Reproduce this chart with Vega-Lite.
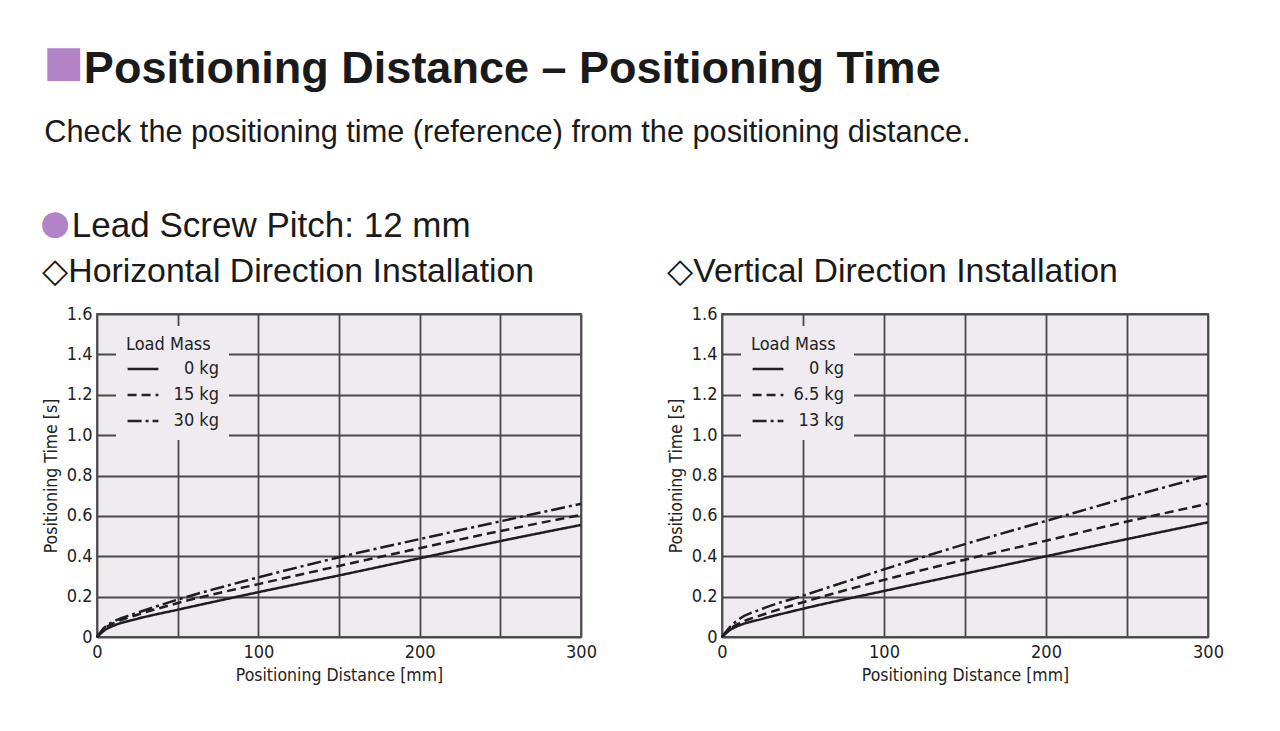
{
  "$schema": "https://vega.github.io/schema/vega-lite/v6.json",
  "background": "white",
  "padding": {"left": 40, "top": 30, "right": 10, "bottom": 10},
  "config": {
    "font": "Liberation Sans",
    "view": {"fill": "#efebf1", "stroke": "#555555", "strokeWidth": 1.8},
    "axis": {
      "labelFont": "DejaVu Sans Condensed, Liberation Sans",
      "labelFontSize": 18,
      "labelColor": "#222222",
      "titleFont": "DejaVu Sans Condensed, Liberation Sans",
      "titleFontSize": 17.5,
      "titleFontWeight": "normal",
      "titleColor": "#222222",
      "ticks": false,
      "domain": false,
      "gridColor": "#4a4a4a",
      "gridWidth": 1.8,
      "gridOpacity": 1,
      "labelPadding": 5
    },
    "legend": {
      "orient": "none",
      "legendX": 19,
      "legendY": 12,
      "fillColor": "#efebf1",
      "padding": 10,
      "titleFont": "DejaVu Sans Condensed, Liberation Sans",
      "titleFontSize": 18,
      "titleFontWeight": "normal",
      "titleColor": "#222222",
      "titlePadding": -2,
      "labelFont": "DejaVu Sans Condensed, Liberation Sans",
      "labelFontSize": 18,
      "labelColor": "#222222",
      "symbolStrokeColor": "#222222",
      "symbolStrokeWidth": 2.5,
      "symbolSize": 950,
      "rowPadding": -10,
      "labelAlign": "right",
      "labelOffset": 59
    }
  },
  "datasets": {
    "horizontal": [
      {"d": 0, "t": 0, "load": "0 kg"},
      {"d": 5, "t": 0.035, "load": "0 kg"},
      {"d": 10, "t": 0.055, "load": "0 kg"},
      {"d": 25, "t": 0.09, "load": "0 kg"},
      {"d": 50, "t": 0.135, "load": "0 kg"},
      {"d": 100, "t": 0.222, "load": "0 kg"},
      {"d": 150, "t": 0.305, "load": "0 kg"},
      {"d": 200, "t": 0.39, "load": "0 kg"},
      {"d": 250, "t": 0.475, "load": "0 kg"},
      {"d": 300, "t": 0.555, "load": "0 kg"},
      {"d": 0, "t": 0, "load": "15 kg"},
      {"d": 5, "t": 0.045, "load": "15 kg"},
      {"d": 10, "t": 0.068, "load": "15 kg"},
      {"d": 25, "t": 0.11, "load": "15 kg"},
      {"d": 50, "t": 0.168, "load": "15 kg"},
      {"d": 100, "t": 0.262, "load": "15 kg"},
      {"d": 150, "t": 0.352, "load": "15 kg"},
      {"d": 200, "t": 0.44, "load": "15 kg"},
      {"d": 250, "t": 0.525, "load": "15 kg"},
      {"d": 300, "t": 0.605, "load": "15 kg"},
      {"d": 0, "t": 0, "load": "30 kg"},
      {"d": 5, "t": 0.05, "load": "30 kg"},
      {"d": 10, "t": 0.075, "load": "30 kg"},
      {"d": 25, "t": 0.12, "load": "30 kg"},
      {"d": 50, "t": 0.185, "load": "30 kg"},
      {"d": 100, "t": 0.295, "load": "30 kg"},
      {"d": 150, "t": 0.395, "load": "30 kg"},
      {"d": 200, "t": 0.485, "load": "30 kg"},
      {"d": 250, "t": 0.573, "load": "30 kg"},
      {"d": 300, "t": 0.66, "load": "30 kg"}
    ],
    "vertical": [
      {"d": 0, "t": 0, "load": "0 kg"},
      {"d": 5, "t": 0.035, "load": "0 kg"},
      {"d": 10, "t": 0.055, "load": "0 kg"},
      {"d": 25, "t": 0.09, "load": "0 kg"},
      {"d": 50, "t": 0.14, "load": "0 kg"},
      {"d": 100, "t": 0.228, "load": "0 kg"},
      {"d": 150, "t": 0.314, "load": "0 kg"},
      {"d": 200, "t": 0.4, "load": "0 kg"},
      {"d": 250, "t": 0.485, "load": "0 kg"},
      {"d": 300, "t": 0.568, "load": "0 kg"},
      {"d": 0, "t": 0, "load": "6.5 kg"},
      {"d": 5, "t": 0.04, "load": "6.5 kg"},
      {"d": 10, "t": 0.065, "load": "6.5 kg"},
      {"d": 25, "t": 0.11, "load": "6.5 kg"},
      {"d": 50, "t": 0.172, "load": "6.5 kg"},
      {"d": 100, "t": 0.283, "load": "6.5 kg"},
      {"d": 150, "t": 0.383, "load": "6.5 kg"},
      {"d": 200, "t": 0.477, "load": "6.5 kg"},
      {"d": 250, "t": 0.572, "load": "6.5 kg"},
      {"d": 300, "t": 0.66, "load": "6.5 kg"},
      {"d": 0, "t": 0, "load": "13 kg"},
      {"d": 5, "t": 0.05, "load": "13 kg"},
      {"d": 10, "t": 0.085, "load": "13 kg"},
      {"d": 25, "t": 0.14, "load": "13 kg"},
      {"d": 50, "t": 0.205, "load": "13 kg"},
      {"d": 100, "t": 0.335, "load": "13 kg"},
      {"d": 150, "t": 0.46, "load": "13 kg"},
      {"d": 200, "t": 0.575, "load": "13 kg"},
      {"d": 250, "t": 0.69, "load": "13 kg"},
      {"d": 300, "t": 0.8, "load": "13 kg"}
    ]
  },
  "title": {
    "text": "■",
    "subtitle": "\u200B\u2002\u2009\u2009Positioning Distance – Positioning Time",
    "anchor": "start",
    "frame": "bounds",
    "dx": 3,
    "color": "#b283c6",
    "fontSize": 68,
    "font": "Liberation Sans",
    "subtitleFont": "Liberation Sans",
    "subtitleFontSize": 45,
    "subtitleFontWeight": "bold",
    "subtitleColor": "#1a1a1a",
    "subtitlePadding": -52,
    "offset": 18
  },
  "vconcat": [
    {
      "title": {
        "text": "Check the positioning time (reference) from the positioning distance.",
        "anchor": "start",
        "frame": "bounds",
        "dx": 4,
        "fontSize": 30.7,
        "fontWeight": "normal",
        "color": "#1a1a1a",
        "font": "Liberation Sans",
        "offset": 59
      },
      "vconcat": [
        {
          "title": {
            "text": "●",
            "subtitle": "\u200B\u2002\u2009\u2009Lead Screw Pitch: 12 mm",
            "anchor": "start",
            "frame": "bounds",
            "dx": -1,
            "color": "#b283c6",
            "fontSize": 34,
            "fontWeight": "normal",
            "font": "DejaVu Sans",
            "subtitleFont": "Liberation Sans",
            "subtitleFontSize": 35,
            "subtitleColor": "#1a1a1a",
            "subtitlePadding": -32,
            "offset": 10
          },
          "resolve": {"scale": {"strokeDash": "independent"}, "legend": {"strokeDash": "independent"}},
          "spacing": 68,
          "hconcat": [
            {
              "width": 484,
              "height": 323,
              "title": {"text": "◇Horizontal Direction Installation", "anchor": "start", "frame": "bounds", "fontSize": 33.8, "fontWeight": "normal", "color": "#1a1a1a", "font": "Liberation Sans", "offset": 16},
              "data": {"name": "horizontal"},
              "mark": {"type": "line", "interpolate": "monotone", "color": "#1e1e1e", "strokeWidth": 2.5},
              "encoding": {
                "x": {"field": "d", "type": "quantitative", "scale": {"domain": [0, 300], "nice": false}, "title": "Positioning Distance [mm]",
                  "axis": {"values": [0, 50, 100, 150, 200, 250, 300], "labelExpr": "datum.value % 100 === 0 ? datum.label : ''", "labelFlush": false, "labelPadding": 6, "titlePadding": 5}},
                "y": {"field": "t", "type": "quantitative", "scale": {"domain": [0, 1.6], "nice": false}, "title": "Positioning Time [s]",
                  "axis": {"values": [0, 0.2, 0.4, 0.6, 0.8, 1.0, 1.2, 1.4, 1.6], "labelExpr": "datum.value === 0 ? '0' : format(datum.value, '.1f')", "titlePadding": 6}},
                "strokeDash": {"field": "load", "type": "nominal",
                  "scale": {"domain": ["0 kg", "15 kg", "30 kg"], "range": [[1, 0], [9, 5], [14, 4, 3, 4]]},
                  "legend": {"title": "Load Mass"}}
              }
            },
            {
              "width": 486,
              "height": 323,
              "title": {"text": "◇Vertical Direction Installation", "anchor": "start", "frame": "bounds", "fontSize": 33.8, "fontWeight": "normal", "color": "#1a1a1a", "font": "Liberation Sans", "offset": 16},
              "data": {"name": "vertical"},
              "mark": {"type": "line", "interpolate": "monotone", "color": "#1e1e1e", "strokeWidth": 2.5},
              "encoding": {
                "x": {"field": "d", "type": "quantitative", "scale": {"domain": [0, 300], "nice": false}, "title": "Positioning Distance [mm]",
                  "axis": {"values": [0, 50, 100, 150, 200, 250, 300], "labelExpr": "datum.value % 100 === 0 ? datum.label : ''", "labelFlush": false, "labelPadding": 6, "titlePadding": 5}},
                "y": {"field": "t", "type": "quantitative", "scale": {"domain": [0, 1.6], "nice": false}, "title": "Positioning Time [s]",
                  "axis": {"values": [0, 0.2, 0.4, 0.6, 0.8, 1.0, 1.2, 1.4, 1.6], "labelExpr": "datum.value === 0 ? '0' : format(datum.value, '.1f')", "titlePadding": 6}},
                "strokeDash": {"field": "load", "type": "nominal",
                  "scale": {"domain": ["0 kg", "6.5 kg", "13 kg"], "range": [[1, 0], [9, 5], [14, 4, 3, 4]]},
                  "legend": {"title": "Load Mass"}}
              }
            }
          ]
        }
      ]
    }
  ]
}
